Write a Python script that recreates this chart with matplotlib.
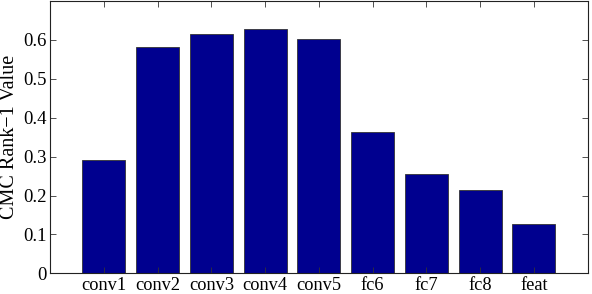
import matplotlib
matplotlib.use("Agg")
import matplotlib.pyplot as plt

categories = ["conv1", "conv2", "conv3", "conv4", "conv5", "fc6", "fc7", "fc8", "feat"]
values = [0.292, 0.582, 0.615, 0.628, 0.603, 0.363, 0.254, 0.213, 0.126]
yticks = [0, 0.1, 0.2, 0.3, 0.4, 0.5, 0.6]
ytick_labels = ["0", "0.1", "0.2", "0.3", "0.4", "0.5", "0.6"]

plt.rcParams['font.family'] = ['Liberation Serif', 'DejaVu Serif']
plt.rcParams['font.size'] = 13.5

fig = plt.figure(figsize=(5.92, 2.94), dpi=100)
ax = fig.add_axes([0.0845, 0.0704, 0.9082, 0.9262])
x = list(range(1, len(categories) + 1))
ax.bar(x, values, width=0.8, color="#00008F", edgecolor="#333333", linewidth=0.6)
ax.set_xlim(0, 10)
ax.set_ylim(0, 0.7)
ax.set_xticks(x)
ax.set_xticklabels(categories, fontsize=13.2)
ax.set_yticks(yticks)
ax.set_yticklabels(ytick_labels)
ax.tick_params(direction="in", length=4.5, width=0.6, top=True, right=True, color="#333333")
ax.tick_params(axis="x", pad=3)
ax.tick_params(axis="y", pad=2.5)
for s in ax.spines.values():
    s.set_linewidth(0.8)
    s.set_color("#222222")
ax.set_ylabel("CMC Rank\u22121 Value", fontsize=14.5, labelpad=3)
fig.savefig("out.png", dpi=100)
